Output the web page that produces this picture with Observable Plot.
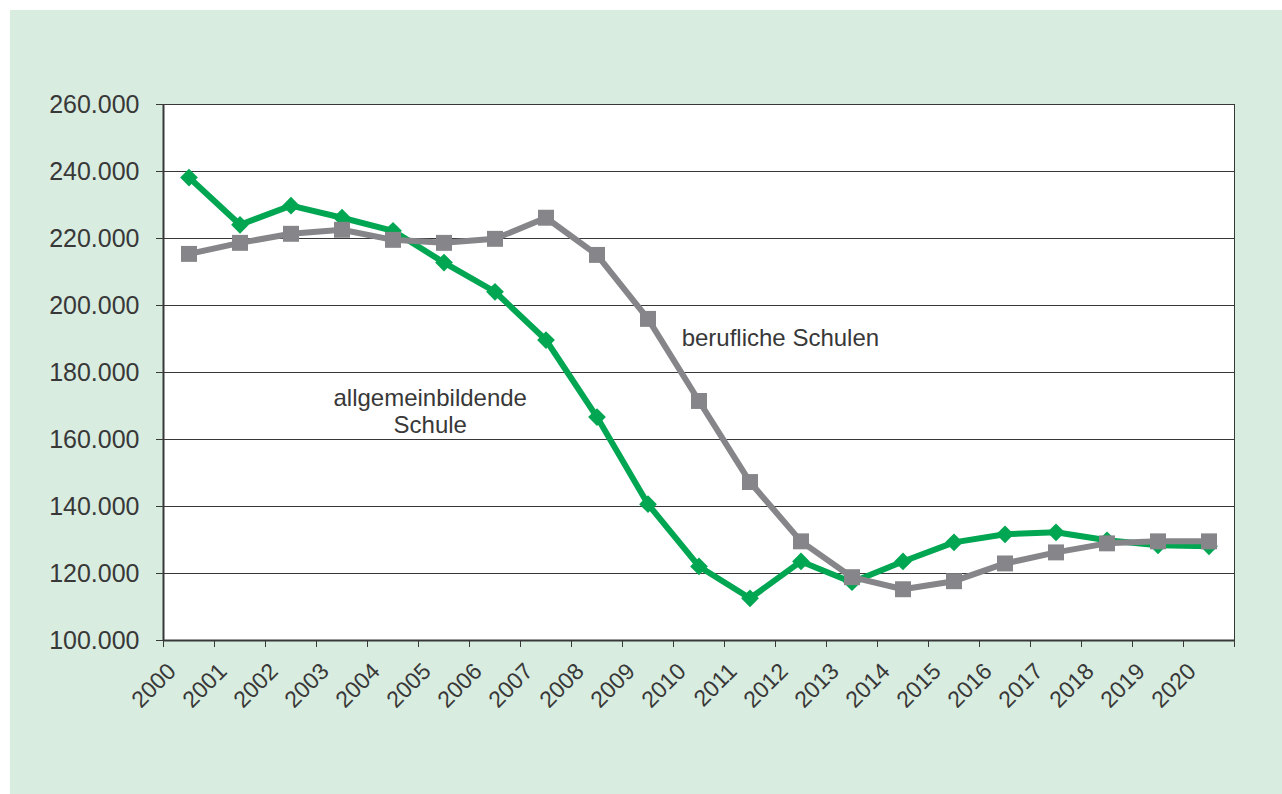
<!DOCTYPE html>
<html>
<head>
<meta charset="utf-8">
<script src="https://cdn.jsdelivr.net/npm/d3@7"></script>
<script src="https://cdn.jsdelivr.net/npm/@observablehq/plot@0.6"></script>
<style>
  html, body { margin: 0; padding: 0; background: #ffffff; overflow: hidden; }
  #wrap { position: relative; width: 1282px; height: 794px; }
  #bg { position: absolute; left: 10px; top: 10px; right: 0; bottom: 0; background: #d9ece0; }
  #chart { position: absolute; left: 0; top: 0; }
</style>
</head>
<body>
<div id="wrap"><div id="bg"></div><div id="chart"></div></div>
<script>
const years = [2000, 2001, 2002, 2003, 2004, 2005, 2006, 2007, 2008, 2009, 2010,
               2011, 2012, 2013, 2014, 2015, 2016, 2017, 2018, 2019, 2020];
const allgemeinbildende = [238200, 224100, 229800, 226200, 222300, 212800, 204100, 189700, 166700, 140700, 122100,
                           112600, 123600, 117400, 123600, 129300, 131700, 132300, 129900, 128400, 128100];
const berufliche = [215400, 218700, 221400, 222600, 219600, 218700, 219900, 226200, 215100, 196000, 171500,
                    147300, 129600, 118900, 115300, 117700, 123000, 126300, 129000, 129600, 129600];
const yTicks = [100000, 120000, 140000, 160000, 180000, 200000, 220000, 240000, 260000];
const labelBeruf = [{x: 2009.66, y: 190300, text: "berufliche Schulen"}];
const labelAllg = [{x: 2004.73, y: 168500, text: "allgemeinbildende\nSchule"}];

const edges = years.map(d => d - 0.5).concat([years[years.length - 1] + 0.5]);
const fmt = d => d3.format(",")(d).replace(/,/g, ".");
const green = "#00a651";
const gray = "#86868a";
const ink = "#383838";
const allgRows = years.map((y, i) => ({year: y, value: allgemeinbildende[i]}));
const berufRows = years.map((y, i) => ({year: y, value: berufliche[i]}));

const chart = Plot.plot({
  width: 1282,
  height: 794,
  marginLeft: 163,
  marginRight: 48,
  marginTop: 104,
  marginBottom: 154,
  style: {background: "transparent", fontFamily: "'Liberation Sans', Arial, sans-serif", fontSize: "24px", color: ink},
  x: {type: "linear", domain: [1999.5, 2020.5], axis: null},
  y: {domain: [100000, 260000], axis: null},
  marks: [
    Plot.frame({fill: "white", stroke: ink, strokeWidth: 1}),
    Plot.gridY({ticks: yTicks, stroke: ink, strokeOpacity: 1, strokeWidth: 1.2}),
    Plot.axisY({ticks: yTicks, tickSize: 7, tickPadding: 17, tickFormat: fmt, fontSize: 25, fill: ink, stroke: ink}),
    Plot.axisX({ticks: edges, tickSize: 7, tickFormat: () => "", stroke: ink}),
    Plot.ruleX([1999.5], {stroke: ink, strokeWidth: 2}),
    Plot.ruleY([100000], {stroke: ink, strokeWidth: 2}),
    Plot.text(years, {x: d => d, frameAnchor: "bottom", text: d => String(d), rotate: -45,
      textAnchor: "end", lineAnchor: "middle", dx: -17, dy: 27, fontSize: 23, fill: ink}),
    Plot.line(allgRows, {x: "year", y: "value", stroke: green, strokeWidth: 6}),
    Plot.dot(allgRows, {x: "year", y: "value", symbol: "diamond2", r: 8, fill: green, stroke: "none"}),
    Plot.line(berufRows, {x: "year", y: "value", stroke: gray, strokeWidth: 6}),
    Plot.dot(berufRows, {x: "year", y: "value", symbol: "square", r: 9, fill: gray, stroke: "none"}),
    Plot.text(labelBeruf, {x: "x", y: "y", text: "text", textAnchor: "start", lineAnchor: "middle", fontSize: 24, fill: ink}),
    Plot.text(labelAllg, {x: "x", y: "y", text: "text", textAnchor: "middle", lineAnchor: "middle", lineHeight: 1.12, fontSize: 24, fill: ink})
  ]
});
document.getElementById("chart").appendChild(chart);
</script>
</body>
</html>
